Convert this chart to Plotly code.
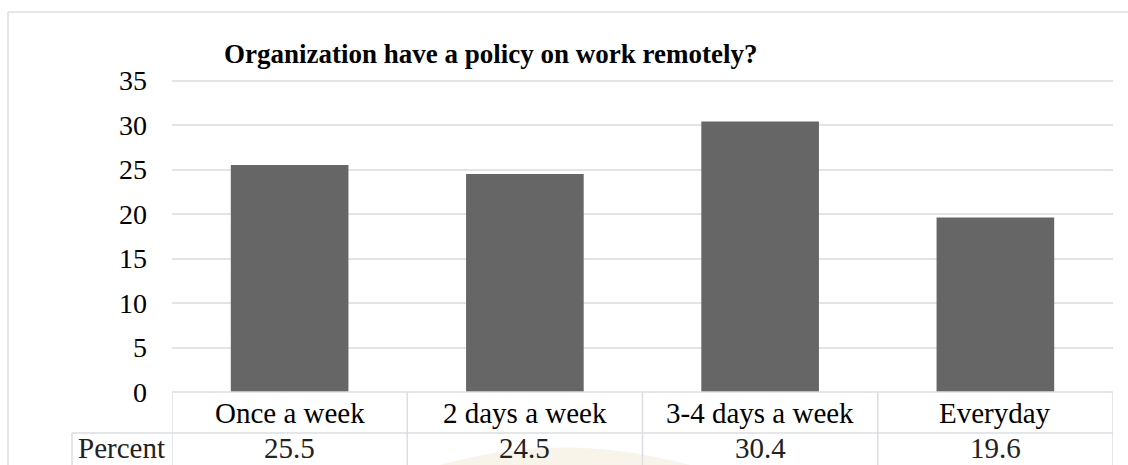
import plotly.graph_objects as go

# ---- data ----
categories = ["Once a week", "2 days a week", "3-4 days a week", "Everyday"]
percent = [25.5, 24.5, 30.4, 19.6]
row_label = "Percent"
title_text = "Organization have a policy on work remotely?"
y_ticks = [0, 5, 10, 15, 20, 25, 30, 35]

W, H = 1128, 465
FONT = "Liberation Serif, Times New Roman, serif"
LINE = "#dadee4"


def px(x):
    return x / W


def py(y):
    return 1 - y / H


x0, x1 = 172, 1113
y_top, y_zero = 80.5, 392
y_max = 35.3
unit = (y_zero - y_top) / 35.0
y_dom_top = y_zero - unit * y_max

fig = go.Figure()
fig.add_trace(go.Bar(
    x=list(range(len(categories))), y=percent, width=0.5,
    marker=dict(color="#666666", line=dict(width=0)),
    hoverinfo="skip", showlegend=False,
))

shapes = []
# outer chart border (top and left edges visible)
shapes.append(dict(type="line", xref="paper", yref="paper", x0=px(8), x1=1,
                   y0=py(12), y1=py(12), line=dict(color=LINE, width=1.5), layer="below"))
shapes.append(dict(type="line", xref="paper", yref="paper", x0=px(8), x1=px(8),
                   y0=py(12), y1=0, line=dict(color=LINE, width=1.5), layer="below"))
# table top line (x axis)
shapes.append(dict(type="line", xref="x", yref="paper", x0=-0.5, x1=len(categories) - 0.5,
                   y0=py(y_zero), y1=py(y_zero), line=dict(color=LINE, width=1.5)))
# table middle line
shapes.append(dict(type="line", xref="paper", yref="paper", x0=px(72), x1=px(x1),
                   y0=py(433), y1=py(433), line=dict(color=LINE, width=1.5)))
# left line of the row-label cell
shapes.append(dict(type="line", xref="paper", yref="paper", x0=px(72), x1=px(72),
                   y0=py(433), y1=0, line=dict(color=LINE, width=1.5)))
# vertical category separators
for i in range(len(categories) + 1):
    shapes.append(dict(type="line", xref="x", yref="paper", x0=i - 0.5, x1=i - 0.5,
                       y0=py(y_zero), y1=0, line=dict(color=LINE, width=1.5)))
# faint watermark (top half of an ellipse at the bottom edge)
wm = "M {a},{b} Q {c},{d} {e},{b} Z".format(a=px(440), b=0, c=px(560), d=py(430), e=px(690))
shapes.append(dict(type="path", xref="paper", yref="paper", path=wm,
                   fillcolor="rgba(228,210,170,0.25)", line=dict(width=0), layer="below"))

annotations = []
annotations.append(dict(text="<b>" + title_text + "</b>", xref="paper", yref="paper",
                        x=px(490), y=py(54), xanchor="center", yanchor="middle",
                        showarrow=False, font=dict(family=FONT, size=27, color="#000000")))
for i, (c, v) in enumerate(zip(categories, percent)):
    annotations.append(dict(text=c, xref="x", yref="paper", x=i, y=py(413),
                            xanchor="center", yanchor="middle", showarrow=False,
                            font=dict(family=FONT, size=29, color="#000000")))
    annotations.append(dict(text=f"{v}", xref="x", yref="paper", x=i, y=0,
                            xanchor="center", yanchor="bottom", showarrow=False,
                            borderpad=0,
                            font=dict(family=FONT, size=29, color="#222222")))
annotations.append(dict(text=row_label, xref="paper", yref="paper", x=px(121), y=0,
                        xanchor="center", yanchor="bottom", showarrow=False, borderpad=0,
                        font=dict(family=FONT, size=29, color="#222222")))

fig.update_layout(
    width=W, height=H, margin=dict(l=0, r=0, t=0, b=0, autoexpand=False),
    paper_bgcolor="white", plot_bgcolor="white",
    xaxis=dict(domain=[px(x0), px(x1)], range=[-0.5, len(categories) - 0.5],
               showticklabels=False, showgrid=False, zeroline=False, showline=False,
               fixedrange=True),
    yaxis=dict(domain=[py(y_zero), py(y_dom_top)], range=[0, y_max], tickvals=y_ticks,
               showgrid=True, gridcolor="#e1e4e9", gridwidth=1.5, zeroline=False,
               showline=False, ticks="", ticklabelstandoff=24,
               tickfont=dict(family=FONT, size=28, color="#000000"), fixedrange=True),
    shapes=shapes, annotations=annotations, bargap=0.5,
)

fig.write_html("out.html")
